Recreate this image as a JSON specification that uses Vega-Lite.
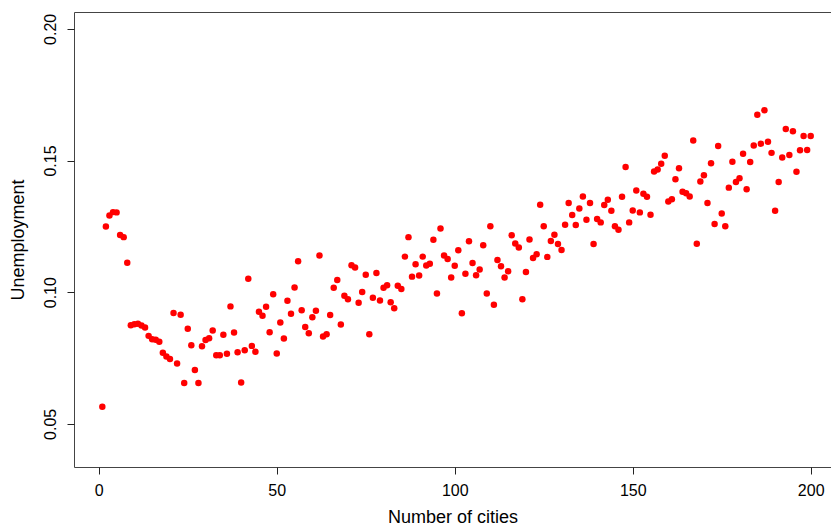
{
 "$schema": "https://vega.github.io/schema/vega-lite/v6.json",
 "width": 757, "height": 455,
 "autosize": {"type": "none"},
 "padding": {"left": 74, "top": 12, "right": 0, "bottom": 62},
 "background": "white",
 "config": {"view": {"stroke": "#444", "strokeWidth": 1}, "font": "Liberation Sans"},
 "data": {"values": [
{"cities":1,"unemployment":0.0565},{"cities":2,"unemployment":0.1249},{"cities":3,"unemployment":0.1291},{"cities":4,"unemployment":0.1304},{"cities":5,"unemployment":0.1303},
{"cities":6,"unemployment":0.1217},{"cities":7,"unemployment":0.1209},{"cities":8,"unemployment":0.1112},{"cities":9,"unemployment":0.0874},{"cities":10,"unemployment":0.0878},
{"cities":11,"unemployment":0.0880},{"cities":12,"unemployment":0.0873},{"cities":13,"unemployment":0.0866},{"cities":14,"unemployment":0.0834},{"cities":15,"unemployment":0.0821},
{"cities":16,"unemployment":0.0819},{"cities":17,"unemployment":0.0812},{"cities":18,"unemployment":0.0770},{"cities":19,"unemployment":0.0756},{"cities":20,"unemployment":0.0746},
{"cities":21,"unemployment":0.0921},{"cities":22,"unemployment":0.0729},{"cities":23,"unemployment":0.0914},{"cities":24,"unemployment":0.0655},{"cities":25,"unemployment":0.0861},
{"cities":26,"unemployment":0.0798},{"cities":27,"unemployment":0.0704},{"cities":28,"unemployment":0.0655},{"cities":29,"unemployment":0.0795},{"cities":30,"unemployment":0.0818},
{"cities":31,"unemployment":0.0825},{"cities":32,"unemployment":0.0854},{"cities":33,"unemployment":0.0760},{"cities":34,"unemployment":0.0760},{"cities":35,"unemployment":0.0838},
{"cities":36,"unemployment":0.0766},{"cities":37,"unemployment":0.0946},{"cities":38,"unemployment":0.0847},{"cities":39,"unemployment":0.0772},{"cities":40,"unemployment":0.0657},
{"cities":41,"unemployment":0.0779},{"cities":42,"unemployment":0.1051},{"cities":43,"unemployment":0.0796},{"cities":44,"unemployment":0.0774},{"cities":45,"unemployment":0.0926},
{"cities":46,"unemployment":0.0910},{"cities":47,"unemployment":0.0945},{"cities":48,"unemployment":0.0848},{"cities":49,"unemployment":0.0992},{"cities":50,"unemployment":0.0767},
{"cities":51,"unemployment":0.0885},{"cities":52,"unemployment":0.0824},{"cities":53,"unemployment":0.0967},{"cities":54,"unemployment":0.0918},{"cities":55,"unemployment":0.1018},
{"cities":56,"unemployment":0.1117},{"cities":57,"unemployment":0.0931},{"cities":58,"unemployment":0.0868},{"cities":59,"unemployment":0.0844},{"cities":60,"unemployment":0.0905},
{"cities":61,"unemployment":0.0929},{"cities":62,"unemployment":0.1139},{"cities":63,"unemployment":0.0832},{"cities":64,"unemployment":0.0840},{"cities":65,"unemployment":0.0913},
{"cities":66,"unemployment":0.1017},{"cities":67,"unemployment":0.1046},{"cities":68,"unemployment":0.0877},{"cities":69,"unemployment":0.0986},{"cities":70,"unemployment":0.0973},
{"cities":71,"unemployment":0.1102},{"cities":72,"unemployment":0.1094},{"cities":73,"unemployment":0.0960},{"cities":74,"unemployment":0.1001},{"cities":75,"unemployment":0.1066},
{"cities":76,"unemployment":0.0840},{"cities":77,"unemployment":0.0979},{"cities":78,"unemployment":0.1073},{"cities":79,"unemployment":0.0968},{"cities":80,"unemployment":0.1017},
{"cities":81,"unemployment":0.1026},{"cities":82,"unemployment":0.0962},{"cities":83,"unemployment":0.0939},{"cities":84,"unemployment":0.1024},{"cities":85,"unemployment":0.1012},
{"cities":86,"unemployment":0.1135},{"cities":87,"unemployment":0.1209},{"cities":88,"unemployment":0.1059},{"cities":89,"unemployment":0.1106},{"cities":90,"unemployment":0.1063},
{"cities":91,"unemployment":0.1135},{"cities":92,"unemployment":0.1101},{"cities":93,"unemployment":0.1108},{"cities":94,"unemployment":0.1199},{"cities":95,"unemployment":0.0995},
{"cities":96,"unemployment":0.1242},{"cities":97,"unemployment":0.1139},{"cities":98,"unemployment":0.1126},{"cities":99,"unemployment":0.1056},{"cities":100,"unemployment":0.1100},
{"cities":101,"unemployment":0.1159},{"cities":102,"unemployment":0.0920},{"cities":103,"unemployment":0.1070},{"cities":104,"unemployment":0.1193},{"cities":105,"unemployment":0.1111},
{"cities":106,"unemployment":0.1064},{"cities":107,"unemployment":0.1086},{"cities":108,"unemployment":0.1178},{"cities":109,"unemployment":0.0995},{"cities":110,"unemployment":0.1250},
{"cities":111,"unemployment":0.0952},{"cities":112,"unemployment":0.1122},{"cities":113,"unemployment":0.1098},{"cities":114,"unemployment":0.1056},{"cities":115,"unemployment":0.1079},
{"cities":116,"unemployment":0.1216},{"cities":117,"unemployment":0.1185},{"cities":118,"unemployment":0.1170},{"cities":119,"unemployment":0.0973},{"cities":120,"unemployment":0.1077},
{"cities":121,"unemployment":0.1200},{"cities":122,"unemployment":0.1130},{"cities":123,"unemployment":0.1144},{"cities":124,"unemployment":0.1332},{"cities":125,"unemployment":0.1250},
{"cities":126,"unemployment":0.1134},{"cities":127,"unemployment":0.1194},{"cities":128,"unemployment":0.1218},{"cities":129,"unemployment":0.1183},{"cities":130,"unemployment":0.1160},
{"cities":131,"unemployment":0.1256},{"cities":132,"unemployment":0.1339},{"cities":133,"unemployment":0.1293},{"cities":134,"unemployment":0.1255},{"cities":135,"unemployment":0.1318},
{"cities":136,"unemployment":0.1363},{"cities":137,"unemployment":0.1275},{"cities":138,"unemployment":0.1339},{"cities":139,"unemployment":0.1183},{"cities":140,"unemployment":0.1278},
{"cities":141,"unemployment":0.1265},{"cities":142,"unemployment":0.1331},{"cities":143,"unemployment":0.1351},{"cities":144,"unemployment":0.1309},{"cities":145,"unemployment":0.1250},
{"cities":146,"unemployment":0.1237},{"cities":147,"unemployment":0.1362},{"cities":148,"unemployment":0.1475},{"cities":149,"unemployment":0.1265},{"cities":150,"unemployment":0.1310},
{"cities":151,"unemployment":0.1386},{"cities":152,"unemployment":0.1303},{"cities":153,"unemployment":0.1374},{"cities":154,"unemployment":0.1362},{"cities":155,"unemployment":0.1294},
{"cities":156,"unemployment":0.1458},{"cities":157,"unemployment":0.1466},{"cities":158,"unemployment":0.1488},{"cities":159,"unemployment":0.1518},{"cities":160,"unemployment":0.1344},
{"cities":161,"unemployment":0.1353},{"cities":162,"unemployment":0.1429},{"cities":163,"unemployment":0.1471},{"cities":164,"unemployment":0.1381},{"cities":165,"unemployment":0.1376},
{"cities":166,"unemployment":0.1363},{"cities":167,"unemployment":0.1576},{"cities":168,"unemployment":0.1184},{"cities":169,"unemployment":0.1420},{"cities":170,"unemployment":0.1444},
{"cities":171,"unemployment":0.1339},{"cities":172,"unemployment":0.1490},{"cities":173,"unemployment":0.1259},{"cities":174,"unemployment":0.1555},{"cities":175,"unemployment":0.1299},
{"cities":176,"unemployment":0.1250},{"cities":177,"unemployment":0.1397},{"cities":178,"unemployment":0.1495},{"cities":179,"unemployment":0.1418},{"cities":180,"unemployment":0.1433},
{"cities":181,"unemployment":0.1526},{"cities":182,"unemployment":0.1391},{"cities":183,"unemployment":0.1494},{"cities":184,"unemployment":0.1557},{"cities":185,"unemployment":0.1674},
{"cities":186,"unemployment":0.1564},{"cities":187,"unemployment":0.1691},{"cities":188,"unemployment":0.1571},{"cities":189,"unemployment":0.1529},{"cities":190,"unemployment":0.1309},
{"cities":191,"unemployment":0.1418},{"cities":192,"unemployment":0.1511},{"cities":193,"unemployment":0.1620},{"cities":194,"unemployment":0.1521},{"cities":195,"unemployment":0.1611},
{"cities":196,"unemployment":0.1457},{"cities":197,"unemployment":0.1539},{"cities":198,"unemployment":0.1593},{"cities":199,"unemployment":0.1540},{"cities":200,"unemployment":0.1593}
 ]},
 "mark": {"type": "circle", "color": "#FF0000", "opacity": 1, "size": 42},
 "encoding": {
  "x": {"field": "cities", "type": "quantitative",
   "scale": {"domain": [-6.96, 205.7], "nice": false, "zero": false},
   "axis": {"values": [0, 50, 100, 150, 200], "format": "d", "title": "Number of cities", "grid": false, "domain": false,
    "tickSize": 7, "tickColor": "#222", "labelFontSize": 16, "labelColor": "#000", "labelPadding": 8, "labelFlush": false, "labelOverlap": false,
    "titleFontSize": 18, "titleFontWeight": "normal", "titleColor": "#000", "titleBaseline": "alphabetic", "titleY": 55}},
  "y": {"field": "unemployment", "type": "quantitative",
   "scale": {"domain": [0.0336, 0.2064], "nice": false, "zero": false},
   "axis": {"values": [0.05, 0.1, 0.15, 0.2], "format": ".2f", "title": "Unemployment", "grid": false, "domain": false,
    "tickSize": 7, "tickColor": "#222", "labelAngle": -90, "labelAlign": "center", "labelBaseline": "alphabetic", "labelPadding": 12,
    "labelFontSize": 16, "labelColor": "#000", "labelFlush": false, "labelOverlap": false,
    "titleFontSize": 18, "titleFontWeight": "normal", "titleColor": "#000", "titleBaseline": "alphabetic", "titleX": -51, "titleAngle": -90, "titleAlign": "center"}}
 }
}
